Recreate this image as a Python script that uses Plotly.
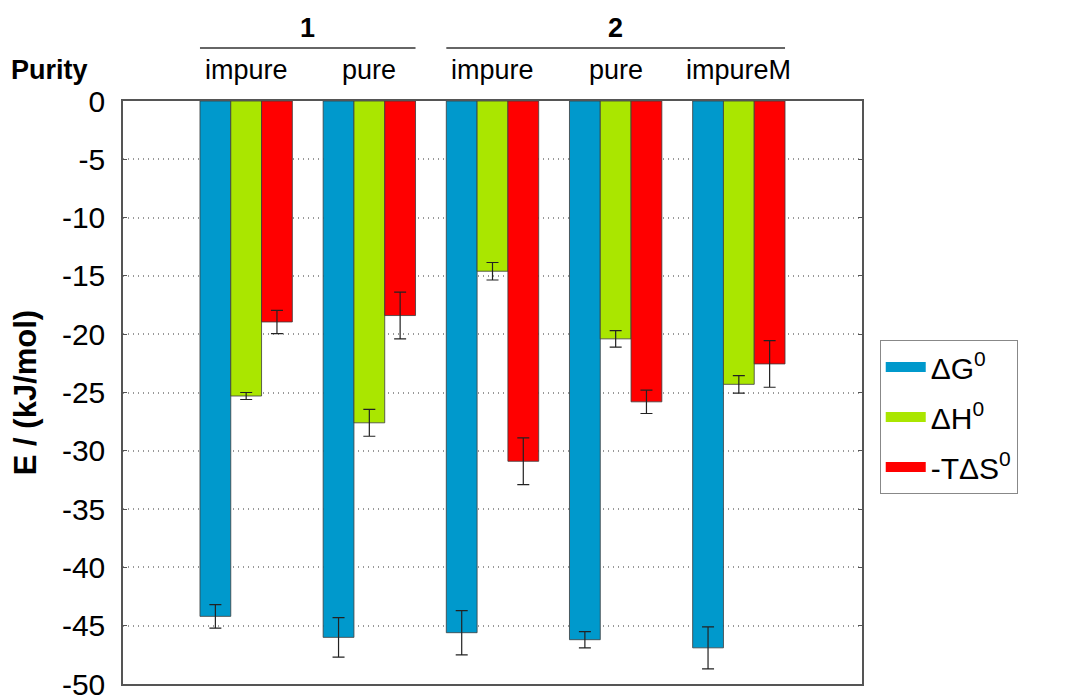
import plotly.graph_objects as go

categories = ["impure", "pure", "impure", "pure", "impureM"]
groups = ["1", "2"]
dG = [-44.2, -46.0, -45.6, -46.2, -46.9]
dG_err = [1.0, 1.7, 1.9, 0.7, 1.8]
dH = [-25.3, -27.6, -14.6, -20.4, -24.3]
dH_err = [0.3, 1.15, 0.75, 0.7, 0.75]
TdS = [-18.95, -18.4, -30.9, -25.8, -22.55]
TdS_err = [1.0, 2.0, 2.0, 1.0, 2.0]
y_ticks = [0, -5, -10, -15, -20, -25, -30, -35, -40, -45, -50]
y_ticklabels = ["0", "-5", "-10", "-15", "-20", "-25", "-30", "-35", "-40", "-45", "-50"]

xpos = list(range(len(categories)))
series = [
    ("ΔG<sup>0</sup>", dG, dG_err, "#0099CC"),
    ("ΔH<sup>0</sup>", dH, dH_err, "#AAE600"),
    ("-TΔS<sup>0</sup>", TdS, TdS_err, "#FF0000"),
]

fig = go.Figure()
for i, (name, vals, errs, col) in enumerate(series):
    fig.add_trace(go.Bar(
        x=xpos, y=vals, name=name, showlegend=False,
        marker=dict(color=col, line=dict(color="rgba(60,60,60,0.8)", width=1)),
        error_y=dict(type="data", array=errs, visible=True, color="#222222", thickness=1.2, width=6),
    ))
for i, (name, vals, errs, col) in enumerate(series):
    fig.add_trace(go.Scatter(
        x=[None], y=[None], mode="lines", name=name, legendgroup=f"g{i}",
        line=dict(color=col, width=12),
    ))

font = "Liberation Sans, Arial, sans-serif"
fig.update_layout(
    width=1060, height=689,
    margin=dict(l=115, r=206, t=93, b=13),
    paper_bgcolor="white", plot_bgcolor="white",
    barmode="group", bargap=0.25, bargroupgap=0,
    font=dict(family=font, size=27, color="black"),
    showlegend=True,
    legend=dict(x=1.024, y=0.59, xanchor="left", yanchor="top",
                bordercolor="#888888", borderwidth=1, font=dict(size=30),
                tracegroupgap=8, traceorder="grouped", itemwidth=40,
                bgcolor="white"),
    xaxis=dict(range=[-1.0, 5.0], showticklabels=False, showgrid=False, zeroline=False,
               showline=True, linecolor="#555555", linewidth=1.5, mirror=True, ticks=""),
    yaxis=dict(range=[-50, 0], tickvals=y_ticks, ticktext=y_ticklabels,
               showgrid=True, gridcolor="#999999", griddash="1px,4px",
               gridwidth=1.5, zeroline=False, showline=True, linecolor="#555555", linewidth=1.5,
               mirror="allticks", ticks="inside", ticklen=4, tickcolor="#555555",
               tickfont=dict(size=30), ticklabelstandoff=10, automargin=False,
               ticklabeloverflow="allow",
               title=dict(text="<b>E / (kJ/mol)</b>", font=dict(size=31), standoff=20)),
)

for i, c in enumerate(categories):
    fig.add_annotation(x=xpos[i], y=1.053, xref="x", yref="paper", text=c, showarrow=False,
                       font=dict(size=27), yanchor="middle")

group_spans = [(0, 1), (2, 4)]
for g, (a, b) in zip(groups, group_spans):
    fig.add_shape(type="line", xref="x", yref="paper", x0=a - 0.375, x1=b + 0.375,
                  y0=1.091, y1=1.091, line=dict(color="#666666", width=2))
    fig.add_annotation(x=(a + b) / 2, y=1.125, xref="x", yref="paper", text=f"<b>{g}</b>",
                       showarrow=False, font=dict(size=27), yanchor="middle")

fig.add_annotation(x=-0.099, y=1.053, xref="paper", yref="paper", text="<b>Purity</b>",
                   showarrow=False, font=dict(size=27), yanchor="middle", xanchor="center")

fig.write_html("out.html")
